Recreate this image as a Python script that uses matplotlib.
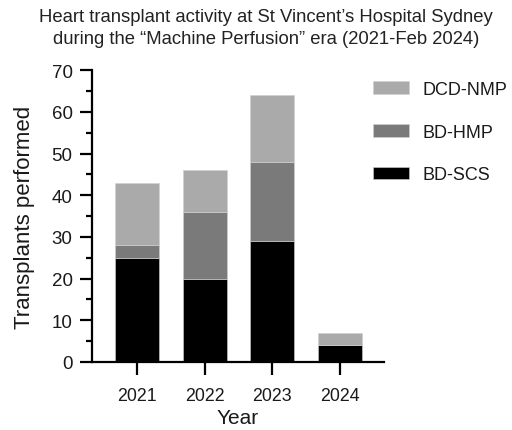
import numpy as np
import matplotlib
matplotlib.use('Agg')
import matplotlib.pyplot as plt
from matplotlib.patches import Patch
from matplotlib.ticker import MultipleLocator

plt.rcParams['font.family'] = ['Liberation Sans', 'DejaVu Sans']

years = ['2021', '2022', '2023', '2024']
bd_scs = [25, 20, 29, 4]
bd_hmp = [3, 16, 19, 0]
dcd_nmp = [15, 10, 16, 3]

series = [('BD-SCS', bd_scs, '#000000'),
          ('BD-HMP', bd_hmp, '#7a7a7a'),
          ('DCD-NMP', dcd_nmp, '#aaaaaa')]

txt = '#1a1a1a'

fig = plt.figure(figsize=(5.12, 4.31), dpi=100)
ax = fig.add_axes([0.1797, 0.1578, 0.5703, 0.6772])

x = np.arange(len(years))
bottom = np.zeros(len(years))
for name, vals, col in series:
    ax.bar(x, vals, width=0.65, bottom=bottom, color=col,
           edgecolor='#d0d0d0', linewidth=0.4)
    bottom += np.array(vals)

ax.set_xlim(-0.665, 3.65)
ax.set_ylim(0, 70)
ax.yaxis.set_major_locator(MultipleLocator(10))
ax.yaxis.set_minor_locator(MultipleLocator(5))
ax.set_xticks(x)
ax.set_xticklabels(years)

for s in ['top', 'right']:
    ax.spines[s].set_visible(False)
for s in ['left', 'bottom']:
    ax.spines[s].set_linewidth(1.6)
ax.tick_params(axis='y', which='major', length=9, width=1.6, labelsize=13.5,
               pad=5, labelcolor=txt)
ax.tick_params(axis='y', which='minor', length=4.5, width=1.6)
ax.tick_params(axis='x', which='major', length=9, width=1.6, labelsize=12.8,
               pad=9, labelcolor=txt)

ax.set_xlabel('Year', fontsize=15, labelpad=3, color=txt)
ax.set_ylabel('Transplants performed', fontsize=16, labelpad=12, color=txt)

fig.text(0.52, 0.978,
         'Heart transplant activity at St Vincent\u2019s Hospital Sydney\n'
         'during the \u201cMachine Perfusion\u201d era (2021-Feb 2024)',
         ha='center', va='top', fontsize=13.3, color='#222222', linespacing=1.35)

handles = [Patch(facecolor=col, edgecolor='#d0d0d0', linewidth=0.4, label=name)
           for name, vals, col in series[::-1]]
leg = fig.legend(handles=handles, loc='upper left', bbox_to_anchor=(0.728, 0.81),
                 frameon=False, fontsize=13, handlelength=2.0, handleheight=0.7,
                 labelspacing=1.42, handletextpad=0.78, borderpad=0,
                 borderaxespad=0)
for t in leg.get_texts():
    t.set_color(txt)

fig.savefig('out.png', dpi=100)
